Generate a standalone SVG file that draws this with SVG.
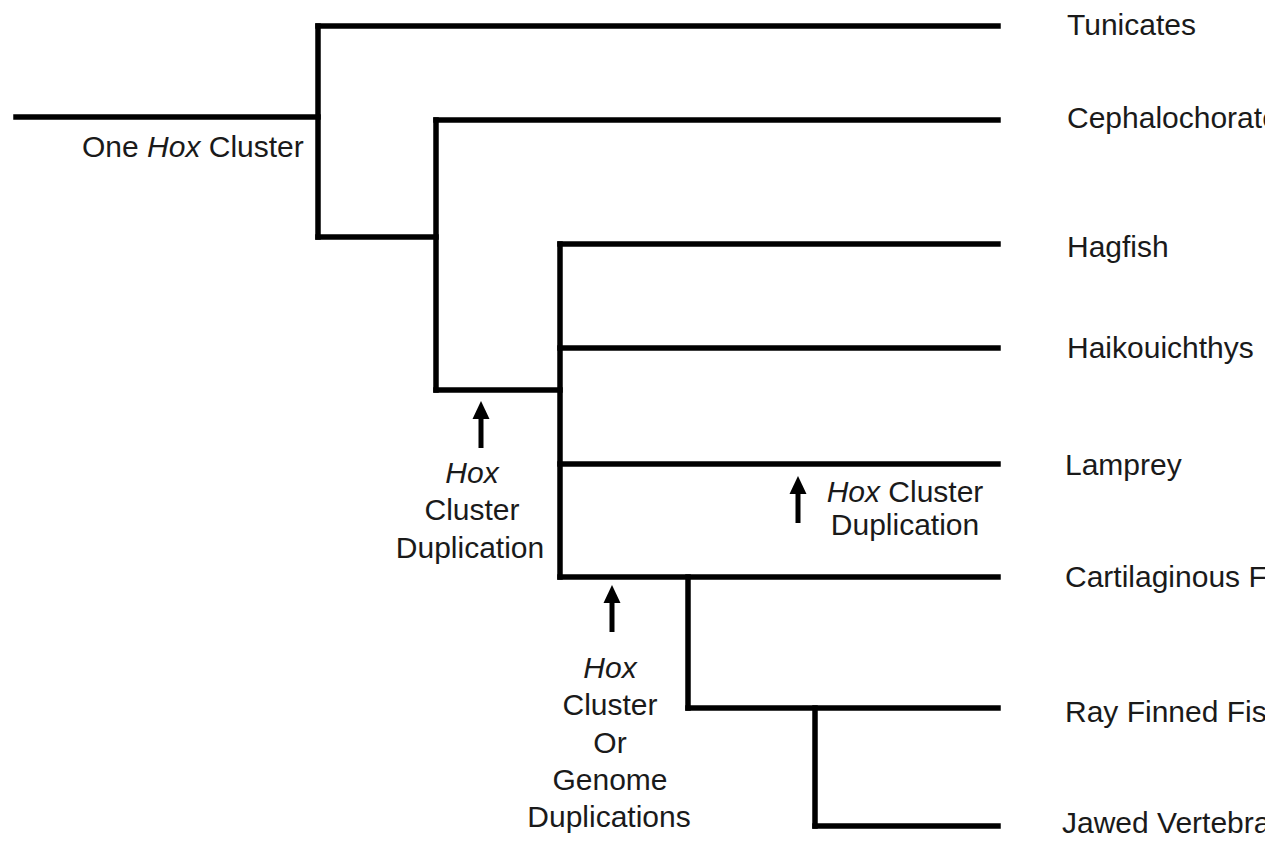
<svg xmlns="http://www.w3.org/2000/svg" width="1265" height="842" viewBox="0 0 1265 842">
<style>
.br{stroke:#000;stroke-width:5.5;fill:none;stroke-linecap:square;stroke-linejoin:miter}
.ar{stroke:#000;stroke-width:5;fill:none}
text{font-family:"Liberation Sans",Arial,Helvetica,sans-serif;font-size:30px;fill:#1a1a1a}
.c{text-anchor:middle}
.i{font-style:italic}
</style>
<defs>
<marker id="ah" markerWidth="4" markerHeight="4" refX="1" refY="2" orient="auto" markerUnits="strokeWidth">
<path d="M0,0.3 L3.6,2 L0,3.7 Z" fill="#000"/>
</marker>
</defs>
<rect width="1265" height="842" fill="#fff"/>
<g id="connectors">
<path class="br" d="M16,117 H318"/>
<path class="br" d="M318,26 V237"/>
<path class="br" d="M318,26 H998"/>
<path class="br" d="M318,237 H436"/>
<path class="br" d="M436,120 V390"/>
<path class="br" d="M436,120 H998"/>
<path class="br" d="M436,390 H560"/>
<path class="br" d="M560,244 V577"/>
<path class="br" d="M560,244 H998"/>
<path class="br" d="M560,348 H998"/>
<path class="br" d="M560,464 H998"/>
<path class="br" d="M560,577 H998"/>
<path class="br" d="M688,577 V708"/>
<path class="br" d="M688,708 H998"/>
<path class="br" d="M815,708 V826"/>
<path class="br" d="M815,826 H998"/>
<line class="ar" x1="481" y1="448" x2="481" y2="414" marker-end="url(#ah)"/>
<line class="ar" x1="612" y1="632" x2="612" y2="598" marker-end="url(#ah)"/>
<line class="ar" x1="798" y1="523" x2="798" y2="489" marker-end="url(#ah)"/>
</g>
<g id="root-label"><text x="82" y="157">One <tspan class="i">Hox</tspan> Cluster</text></g>
<g id="tunicates"><text x="1067" y="35">Tunicates</text></g>
<g id="cephalochorates"><text x="1067" y="128">Cephalochorates</text></g>
<g id="hagfish"><text x="1067" y="257">Hagfish</text></g>
<g id="haikouichthys"><text x="1067" y="358">Haikouichthys</text></g>
<g id="lamprey"><text x="1065" y="475">Lamprey</text></g>
<g id="cartilaginous"><text x="1065" y="587">Cartilaginous Fish</text></g>
<g id="rayfinned"><text x="1065" y="722">Ray Finned Fish</text></g>
<g id="jawed"><text x="1062" y="833">Jawed Vertebrates</text></g>
<g id="dup1"><text class="c" x="472" y="483"><tspan class="i">Hox</tspan></text><text class="c" x="472" y="520">Cluster</text><text class="c" x="470" y="558">Duplication</text></g>
<g id="dup2"><text class="c" x="610" y="678"><tspan class="i">Hox</tspan></text><text class="c" x="610" y="715">Cluster</text><text class="c" x="610" y="753">Or</text><text class="c" x="610" y="790">Genome</text><text class="c" x="609" y="827">Duplications</text></g>
<g id="dup3"><text class="c" x="905" y="502"><tspan class="i">Hox</tspan> Cluster</text><text class="c" x="905" y="535">Duplication</text></g>
</svg>
